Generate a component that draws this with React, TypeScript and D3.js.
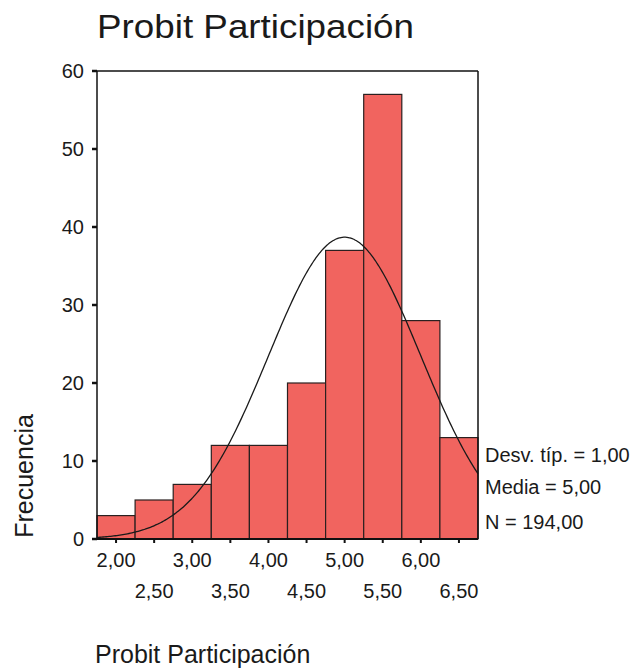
import React from "react";
import * as d3 from "d3";

const binCenters = [2.0, 2.5, 3.0, 3.5, 4.0, 4.5, 5.0, 5.5, 6.0, 6.5];
const frequencies = [3, 5, 7, 12, 12, 20, 37, 57, 28, 13];
const tickLabelsTop = ["2,00", "3,00", "4,00", "5,00", "6,00"];
const tickLabelsBottom = ["2,50", "3,50", "4,50", "5,50", "6,50"];
const yTicks = [0, 10, 20, 30, 40, 50, 60];
const statLines = ["Desv. típ. = 1,00", "Media = 5,00", "N = 194,00"];
const stats = { sd: 1.0, mean: 5.0, n: 194, binWidth: 0.5 };

const W = 636;
const H = 670;
const font = "Liberation Sans, Arial, Helvetica, sans-serif";

export default function App() {
  const x = d3.scaleLinear().domain([1.75, 6.75]).range([97, 478]);
  const y = d3.scaleLinear().domain([0, 60]).range([539, 71]);

  const curvePts = d3.range(1.75, 6.7501, 0.02).map((v) => {
    const z = (v - stats.mean) / stats.sd;
    const f = (stats.n * stats.binWidth) / (stats.sd * Math.sqrt(2 * Math.PI)) * Math.exp(-0.5 * z * z);
    return [v, f] as [number, number];
  });
  const line = d3
    .line<[number, number]>()
    .x((d) => x(d[0]))
    .y((d) => y(d[1]))
    .curve(d3.curveBasis);

  const bw = stats.binWidth;

  return (
    <svg
      width={W}
      height={H}
      style={{ position: "absolute", left: 0, top: 0, background: "#fff" }}
      fontFamily={font}
    >
      <rect x={0} y={0} width={W} height={H} fill="#fff" />
      <text x={97} y={38} fontSize={34} fill="#1a1a1a" textLength={317} lengthAdjust="spacingAndGlyphs">
        Probit Participación
      </text>

      {/* bars */}
      {binCenters.map((c, i) => (
        <rect
          key={i}
          x={x(c - bw / 2)}
          y={y(frequencies[i])}
          width={x(c + bw / 2) - x(c - bw / 2)}
          height={y(0) - y(frequencies[i])}
          fill="#f1645f"
          stroke="#2a2020"
          strokeWidth={1.2}
        />
      ))}

      {/* normal curve */}
      <path d={line(curvePts) || ""} fill="none" stroke="#1a1a1a" strokeWidth={1.3} />

      {/* frame */}
      <line x1={x(1.75)} x2={x(6.75)} y1={y(60)} y2={y(60)} stroke="#111" strokeWidth={1.5} />
      <line x1={x(6.75)} x2={x(6.75)} y1={y(60)} y2={y(0)} stroke="#111" strokeWidth={1.5} />
      <line x1={x(1.75)} x2={x(1.75)} y1={y(60)} y2={y(0)} stroke="#111" strokeWidth={1.5} />
      <line x1={x(1.75) - 5} x2={x(6.75)} y1={y(0)} y2={y(0)} stroke="#111" strokeWidth={2} />

      {/* y ticks */}
      {yTicks.map((t) => (
        <g key={t}>
          <line x1={x(1.75) - 5} x2={x(1.75)} y1={y(t)} y2={y(t)} stroke="#111" strokeWidth={2.5} />
          <text x={84} y={y(t)} dy="0.36em" textAnchor="end" fontSize={20} fill="#1a1a1a">
            {t}
          </text>
        </g>
      ))}

      {/* x ticks */}
      {binCenters.map((c, i) => (
        <g key={i}>
          <line x1={x(c)} x2={x(c)} y1={y(0)} y2={y(0) + 4} stroke="#111" strokeWidth={2} />
          <text
            x={x(c)}
            y={i % 2 === 0 ? 567 : 598}
            textAnchor="middle"
            fontSize={20}
            fill="#1a1a1a"
          >
            {i % 2 === 0 ? tickLabelsTop[i / 2] : tickLabelsBottom[(i - 1) / 2]}
          </text>
        </g>
      ))}

      {/* stats */}
      {statLines.map((s, i) => (
        <text key={s} x={485} y={[462, 494, 529][i]} fontSize={20} fill="#1a1a1a">
          {s}
        </text>
      ))}

      {/* axis titles */}
      <text
        transform={`translate(33,${476}) rotate(-90)`}
        textAnchor="middle"
        fontSize={25}
        fill="#1a1a1a"
      >
        Frecuencia
      </text>
      <text x={95} y={663} fontSize={25} fill="#1a1a1a">
        Probit Participación
      </text>
    </svg>
  );
}
